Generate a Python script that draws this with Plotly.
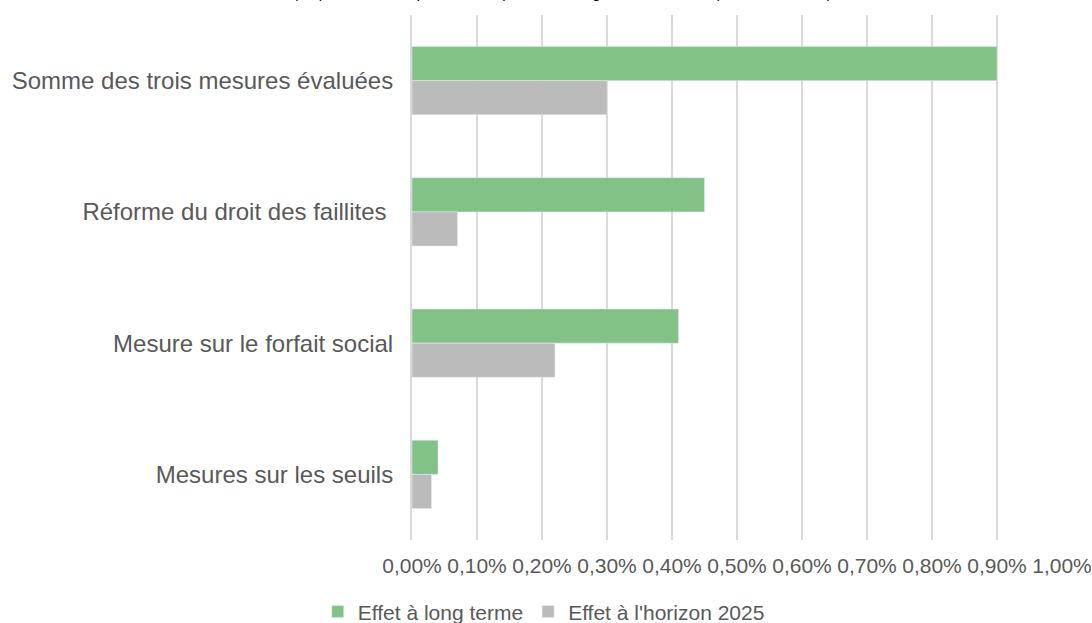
import plotly.graph_objects as go

# categories from top to bottom
categories = [
    "Somme des trois mesures évaluées",
    "Réforme du droit des faillites\u00a0",
    "Mesure sur le forfait social",
    "Mesures sur les seuils",
]
long_terme = [0.90, 0.45, 0.41, 0.04]
horizon_2025 = [0.30, 0.07, 0.22, 0.03]
tick_vals = [0.0, 0.1, 0.2, 0.3, 0.4, 0.5, 0.6, 0.7, 0.8, 0.9, 1.0]
tick_text = ["0,00%", "0,10%", "0,20%", "0,30%", "0,40%", "0,50%",
             "0,60%", "0,70%", "0,80%", "0,90%", "1,00%"]

grey_txt = "#595959"

fig = go.Figure()
fig.add_trace(go.Bar(y=categories, x=long_terme, orientation="h",
                     name="Effet à long terme", marker_color="#82C287"))
fig.add_trace(go.Bar(y=categories, x=horizon_2025, orientation="h",
                     name="Effet à l'horizon 2025", marker_color="#BBBBBB"))

fig.update_layout(
    width=1092, height=623,
    margin=dict(l=412, r=30, t=15, b=83, autoexpand=False),
    paper_bgcolor="white", plot_bgcolor="white",
    font=dict(family="Liberation Sans, Arial", color=grey_txt),
    barmode="group", bargap=0.48, bargroupgap=0,
    showlegend=True,
    legend=dict(orientation="h", x=-0.145, xanchor="left", y=-0.137, yanchor="middle",
                font=dict(size=21, color=grey_txt), itemwidth=30, traceorder="normal"),
)
fig.update_xaxes(range=[0, 1.0], tickvals=tick_vals, ticktext=tick_text, automargin=False,
                 showgrid=True, gridcolor="#D9D9D9", gridwidth=2, zeroline=False,
                 showline=False, tickfont=dict(size=21, color=grey_txt),
                 ticklabelstandoff=11)
fig.update_yaxes(autorange="reversed", showgrid=False, showline=True, linecolor="#D9D9D9",
                 linewidth=2, tickfont=dict(size=24, color=grey_txt), ticklabelstandoff=12,
                 automargin=False)

# subtitle, cut off at the top edge as in the source image
fig.add_annotation(text="(en points de PIB, prise en compte du bouclage macroéconomique des mesures)",
                   xref="paper", yref="paper", x=0.231, y=1.022, xanchor="center", yanchor="bottom",
                   showarrow=False, font=dict(size=15, color="#000000"))

fig.write_html("out.html", config={"displayModeBar": False},
               post_script="document.body.style.margin='0';")
